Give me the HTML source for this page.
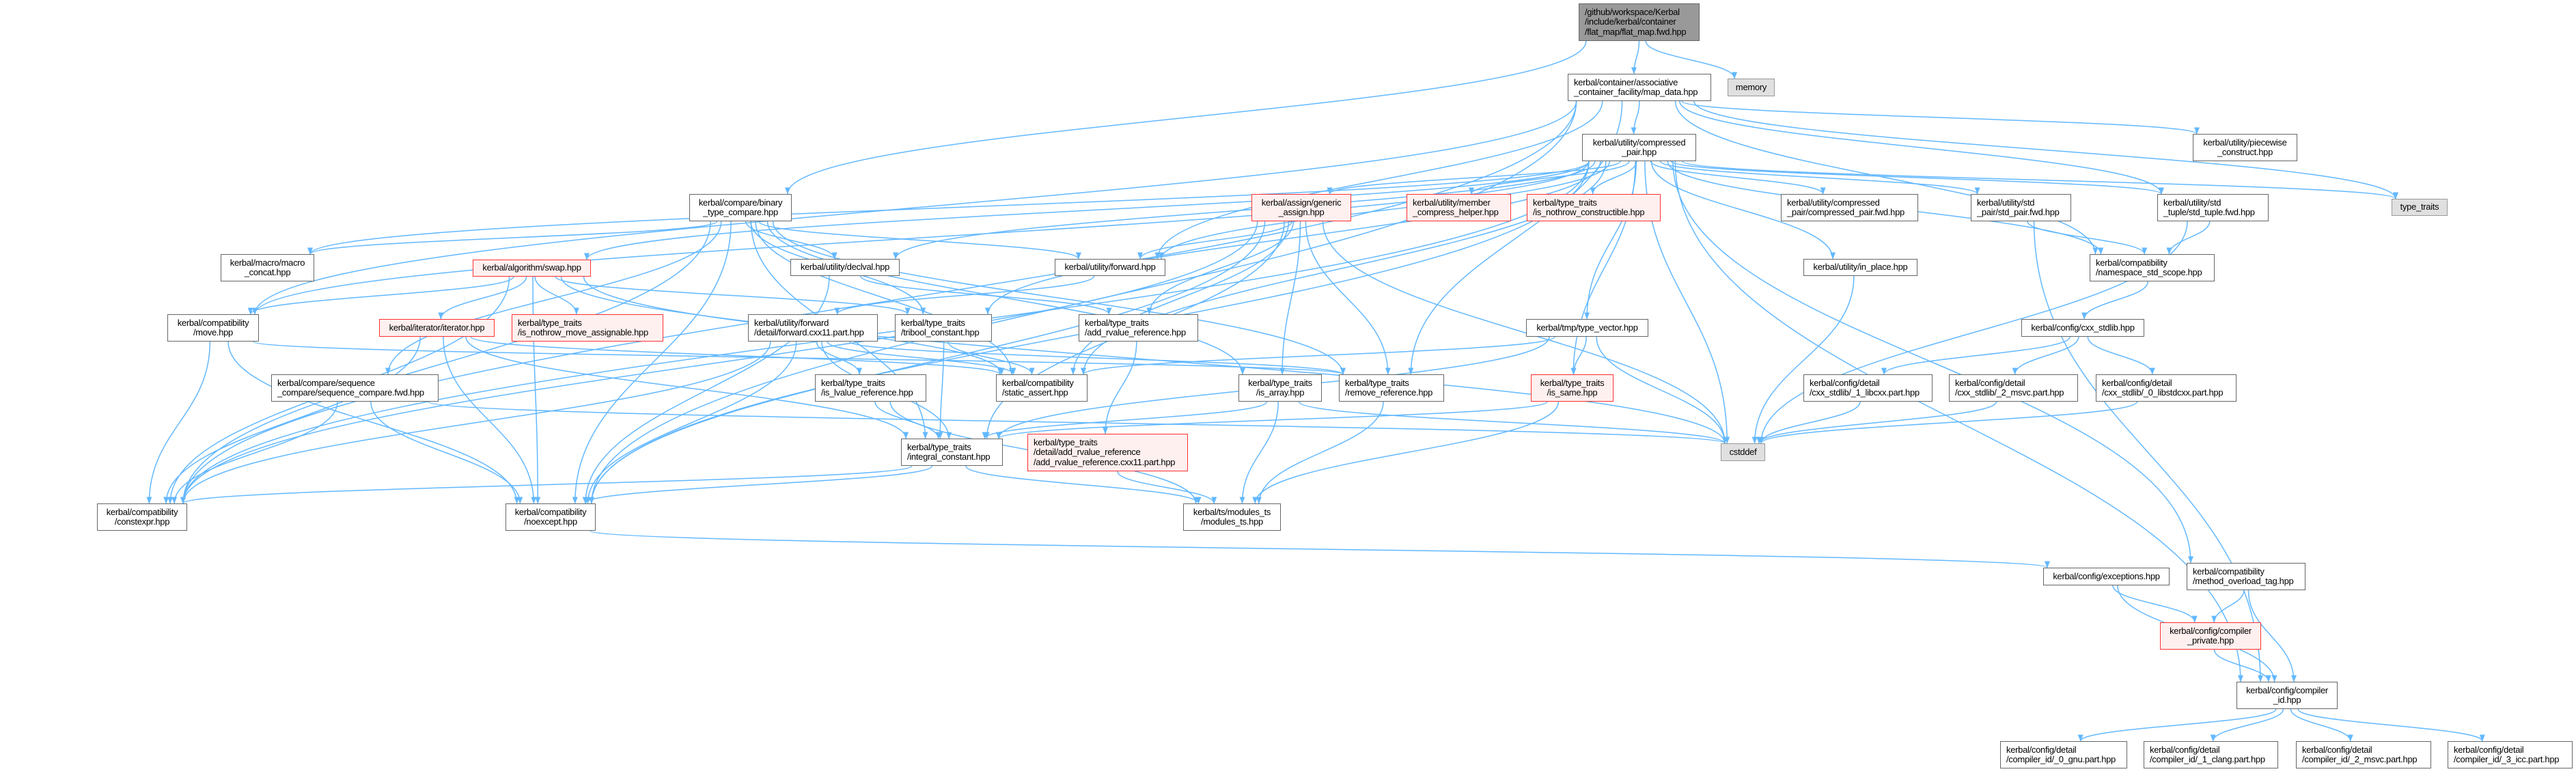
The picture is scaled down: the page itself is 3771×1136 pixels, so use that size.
<!DOCTYPE html>
<html><head><meta charset="utf-8">
<style>
html,body{margin:0;padding:0;background:#fff;}
#c{position:relative;width:3771px;height:1136px;overflow:hidden;font-family:"Liberation Sans",Arial,sans-serif;font-size:13px;color:#000;}
svg{position:absolute;left:0;top:0;}
.n{position:absolute;box-sizing:border-box;border:1.5px solid #666;background:#fff;display:flex;flex-direction:column;justify-content:center;padding:0 8px;line-height:14.5px;white-space:nowrap;letter-spacing:-0.3px;}
.c{align-items:center;text-align:center;}
.r{border-color:#ff3030;background:#fff0f0;}
.g{border-color:#999;background:#e0e0e0;}
.root{background:#999;border-color:#666;}
</style></head><body>
<div id="c">
<svg id="s" width="3771" height="1136" xmlns="http://www.w3.org/2000/svg">
<defs><marker id="a" markerWidth="10" markerHeight="8" refX="9.5" refY="4" orient="auto" markerUnits="userSpaceOnUse"><path d="M0,0 L10,4 L0,8 z" fill="#63b8ff"/></marker></defs>
<g id="e" fill="none" stroke="#63b8ff" stroke-width="1.5"></g>
</svg>
<div class="n root" id="root" style="left:2311px;top:5px;width:177px;height:55px">/github/workspace/Kerbal<br>/include/kerbal/container<br>/flat_map/flat_map.fwd.hpp</div>
<div class="n g c" id="memory" style="left:2529px;top:115px;width:69px;height:26px">memory</div>
<div class="n" id="map" style="left:2295px;top:108px;width:210px;height:40px">kerbal/container/associative<br>_container_facility/map_data.hpp</div>
<div class="n c" id="cp" style="left:2316px;top:196px;width:167px;height:40px">kerbal/utility/compressed<br>_pair.hpp</div>
<div class="n c" id="pw" style="left:3210px;top:196px;width:153px;height:40px">kerbal/utility/piecewise<br>_construct.hpp</div>
<div class="n g c" id="tt" style="left:3501px;top:291px;width:82px;height:25px">type_traits</div>
<div class="n c" id="btc" style="left:1009px;top:284px;width:150px;height:40px">kerbal/compare/binary<br>_type_compare.hpp</div>
<div class="n r c" id="ga" style="left:1832px;top:284px;width:146px;height:40px">kerbal/assign/generic<br>_assign.hpp</div>
<div class="n r" id="mch" style="left:2059px;top:284px;width:153px;height:40px">kerbal/utility/member<br>_compress_helper.hpp</div>
<div class="n r" id="inc" style="left:2235px;top:284px;width:196px;height:40px">kerbal/type_traits<br>/is_nothrow_constructible.hpp</div>
<div class="n" id="cpf" style="left:2607px;top:284px;width:201px;height:40px">kerbal/utility/compressed<br>_pair/compressed_pair.fwd.hpp</div>
<div class="n" id="spf" style="left:2885px;top:284px;width:147px;height:40px">kerbal/utility/std<br>_pair/std_pair.fwd.hpp</div>
<div class="n" id="stf" style="left:3158px;top:284px;width:163px;height:40px">kerbal/utility/std<br>_tuple/std_tuple.fwd.hpp</div>
<div class="n c" id="mc" style="left:323px;top:372px;width:137px;height:40px">kerbal/macro/macro<br>_concat.hpp</div>
<div class="n r c" id="swap" style="left:692px;top:380px;width:173px;height:25px">kerbal/algorithm/swap.hpp</div>
<div class="n c" id="declval" style="left:1157px;top:379px;width:160px;height:25px">kerbal/utility/declval.hpp</div>
<div class="n c" id="fwd" style="left:1544px;top:379px;width:162px;height:25px">kerbal/utility/forward.hpp</div>
<div class="n c" id="inplace" style="left:2640px;top:379px;width:167px;height:25px">kerbal/utility/in_place.hpp</div>
<div class="n" id="nss" style="left:3059px;top:372px;width:183px;height:40px">kerbal/compatibility<br>/namespace_std_scope.hpp</div>
<div class="n c" id="move" style="left:245px;top:460px;width:134px;height:40px">kerbal/compatibility<br>/move.hpp</div>
<div class="n r c" id="iter" style="left:555px;top:467px;width:169px;height:26px">kerbal/iterator/iterator.hpp</div>
<div class="n r" id="inma" style="left:749px;top:460px;width:222px;height:40px">kerbal/type_traits<br>/is_nothrow_move_assignable.hpp</div>
<div class="n" id="fcx" style="left:1095px;top:460px;width:190px;height:40px">kerbal/utility/forward<br>/detail/forward.cxx11.part.hpp</div>
<div class="n" id="tri" style="left:1310px;top:460px;width:142px;height:40px">kerbal/type_traits<br>/tribool_constant.hpp</div>
<div class="n" id="arr" style="left:1579px;top:460px;width:175px;height:40px">kerbal/type_traits<br>/add_rvalue_reference.hpp</div>
<div class="n c" id="tv" style="left:2234px;top:467px;width:179px;height:26px">kerbal/tmp/type_vector.hpp</div>
<div class="n c" id="cxs" style="left:2959px;top:467px;width:180px;height:26px">kerbal/config/cxx_stdlib.hpp</div>
<div class="n" id="seq" style="left:397px;top:548px;width:245px;height:40px">kerbal/compare/sequence<br>_compare/sequence_compare.fwd.hpp</div>
<div class="n" id="ilr" style="left:1193px;top:548px;width:163px;height:40px">kerbal/type_traits<br>/is_lvalue_reference.hpp</div>
<div class="n" id="sa" style="left:1458px;top:548px;width:134px;height:40px">kerbal/compatibility<br>/static_assert.hpp</div>
<div class="n c" id="isarr" style="left:1813px;top:548px;width:122px;height:40px">kerbal/type_traits<br>/is_array.hpp</div>
<div class="n" id="rr" style="left:1960px;top:548px;width:154px;height:40px">kerbal/type_traits<br>/remove_reference.hpp</div>
<div class="n r c" id="same" style="left:2241px;top:548px;width:121px;height:40px">kerbal/type_traits<br>/is_same.hpp</div>
<div class="n" id="lcx" style="left:2640px;top:548px;width:189px;height:40px">kerbal/config/detail<br>/cxx_stdlib/_1_libcxx.part.hpp</div>
<div class="n" id="msv" style="left:2853px;top:548px;width:189px;height:40px">kerbal/config/detail<br>/cxx_stdlib/_2_msvc.part.hpp</div>
<div class="n" id="lsc" style="left:3068px;top:548px;width:206px;height:40px">kerbal/config/detail<br>/cxx_stdlib/_0_libstdcxx.part.hpp</div>
<div class="n g c" id="cst" style="left:2519px;top:649px;width:65px;height:26px">cstddef</div>
<div class="n" id="ic" style="left:1319px;top:642px;width:149px;height:40px">kerbal/type_traits<br>/integral_constant.hpp</div>
<div class="n r" id="arc" style="left:1504px;top:635px;width:235px;height:55px">kerbal/type_traits<br>/detail/add_rvalue_reference<br>/add_rvalue_reference.cxx11.part.hpp</div>
<div class="n c" id="cex" style="left:142px;top:737px;width:132px;height:40px">kerbal/compatibility<br>/constexpr.hpp</div>
<div class="n c" id="noex" style="left:740px;top:737px;width:132px;height:40px">kerbal/compatibility<br>/noexcept.hpp</div>
<div class="n c" id="mts" style="left:1732px;top:737px;width:143px;height:40px">kerbal/ts/modules_ts<br>/modules_ts.hpp</div>
<div class="n c" id="exc" style="left:2991px;top:831px;width:185px;height:26px">kerbal/config/exceptions.hpp</div>
<div class="n" id="mot" style="left:3201px;top:824px;width:174px;height:40px">kerbal/compatibility<br>/method_overload_tag.hpp</div>
<div class="n r c" id="cpriv" style="left:3162px;top:911px;width:148px;height:40px">kerbal/config/compiler<br>_private.hpp</div>
<div class="n c" id="cid" style="left:3274px;top:998px;width:148px;height:40px">kerbal/config/compiler<br>_id.hpp</div>
<div class="n" id="gnu" style="left:2928px;top:1085px;width:186px;height:40px">kerbal/config/detail<br>/compiler_id/_0_gnu.part.hpp</div>
<div class="n" id="clang" style="left:3138px;top:1085px;width:197px;height:40px">kerbal/config/detail<br>/compiler_id/_1_clang.part.hpp</div>
<div class="n" id="msvc2" style="left:3361px;top:1085px;width:198px;height:40px">kerbal/config/detail<br>/compiler_id/_2_msvc.part.hpp</div>
<div class="n" id="icc" style="left:3583px;top:1085px;width:183px;height:40px">kerbal/config/detail<br>/compiler_id/_3_icc.part.hpp</div>
</div>
<script>
var E="root>map root>memory root>btc map>cp map>pw map>tt map>cex map>noex map>move map>fwd map>nss map>stf map>rr cp>ga cp>mch cp>inc cp>cpf cp>spf cp>stf cp>nss cp>tt cp>inplace cp>tv cp>same cp>fwd cp>declval cp>swap cp>move cp>cex cp>noex cp>cst cp>mot cp>cid cp>tri cp>sa cp>mc btc>mc btc>declval btc>fwd btc>seq btc>tri btc>ic btc>isarr btc>rr btc>sa btc>cex btc>noex ga>fwd ga>sa ga>ic ga>arr ga>rr ga>isarr ga>noex ga>cst ga>cex swap>iter swap>inma swap>move swap>cex swap>noex swap>tri swap>cst swap>sa iter>cex iter>noex iter>ic iter>sa move>cex move>noex move>rr declval>arr declval>noex fwd>fcx fcx>ilr fcx>ic fcx>cex fcx>noex fcx>sa fcx>rr tri>sa tri>ic arr>arc arc>mts seq>cex seq>noex seq>cst ilr>ic ilr>mts isarr>ic isarr>mts isarr>cst rr>mts same>ic same>mts tv>same tv>cst tv>ic tv>sa inplace>cst spf>nss spf>cid stf>nss stf>cst nss>cxs cxs>lcx cxs>msv cxs>lsc lcx>cst msv>cst lsc>cst ic>cex ic>noex ic>mts noex>exc exc>cpriv exc>cid mot>cpriv mot>cid cpriv>cid cid>gnu cid>clang cid>msvc2 cid>icc".split(" ");
function b(id){var d=document.getElementById(id);return{x:d.offsetLeft,y:d.offsetTop,w:d.offsetWidth,h:d.offsetHeight};}
var g=document.getElementById("e"),cnt={};
E.forEach(function(s){var p=s.split(">"),A=b(p[0]),B=b(p[1]);
 var ax=A.x+A.w/2,ay=A.y+A.h,bx=B.x+B.w/2,by=B.y,d;
 var k=p[1];cnt[k]=(cnt[k]||0)+1;var off=((cnt[k]%5)-2)*8;
 if(B.y>A.y+A.h-2){
  var f=0.5+(bx-ax)/3000;f=Math.max(0.06,Math.min(0.94,f));
  var sx=A.x+A.w*f;
  var tx=Math.max(B.x+6,Math.min(B.x+B.w-6,bx+off+(ax-bx)*0.1));
  var dy=by-ay;
  d="M"+sx+","+ay+" C"+sx+","+(ay+dy*0.45)+" "+tx+","+(by-dy*0.45)+" "+tx+","+by;
 }else{
  var sy=A.y+A.h/2,ty=B.y+B.h/2,sx2,tx2;
  if(bx>ax){sx2=A.x+A.w;tx2=B.x;}else{sx2=A.x;tx2=B.x+B.w;}
  d="M"+sx2+","+sy+" C"+(sx2+tx2)/2+","+sy+" "+(sx2+tx2)/2+","+ty+" "+tx2+","+(ty+off/2);
 }
 var e=document.createElementNS("http://www.w3.org/2000/svg","path");e.setAttribute("d",d);e.setAttribute("marker-end","url(#a)");g.appendChild(e);
});
</script>
</body></html>
